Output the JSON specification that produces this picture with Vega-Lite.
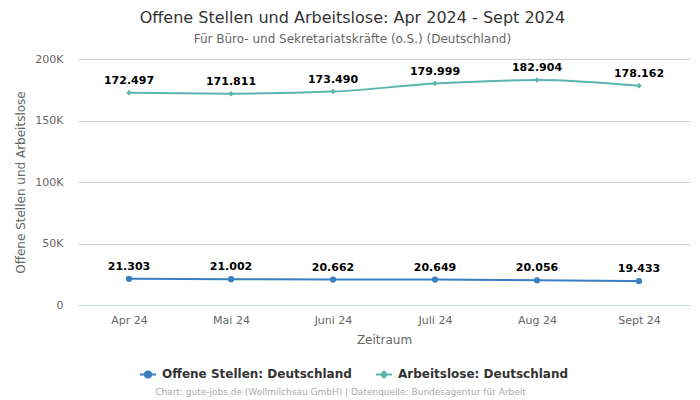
{
  "$schema": "https://vega.github.io/schema/vega-lite/v6.json",
  "width": 612,
  "height": 246,
  "autosize": {"type": "none"},
  "padding": {"left": 78, "top": 59, "right": 10, "bottom": 95},
  "background": "white",
  "view": {"stroke": null},
  "config": {
    "font": "DejaVu Sans",
    "view": {"stroke": null},
    "axis": {"domain": false, "ticks": false},
    "locale": {"number": {"decimal": ",", "thousands": ".", "grouping": [3], "currency": ["", " €"]}}
  },
  "title": {
    "text": "Offene Stellen und Arbeitslose: Apr 2024 - Sept 2024",
    "subtitle": "Für Büro- und Sekretariatskräfte (o.S.) (Deutschland)",
    "anchor": "middle",
    "frame": "bounds",
    "fontSize": 16,
    "fontWeight": "normal",
    "color": "#333333",
    "subtitleFontSize": 12,
    "subtitleColor": "#666666",
    "subtitlePadding": 8,
    "offset": 8
  },
  "data": {
    "values": [
      {"monat": "Apr 24", "serie": "Offene Stellen: Deutschland", "wert": 21303},
      {"monat": "Mai 24", "serie": "Offene Stellen: Deutschland", "wert": 21002},
      {"monat": "Juni 24", "serie": "Offene Stellen: Deutschland", "wert": 20662},
      {"monat": "Juli 24", "serie": "Offene Stellen: Deutschland", "wert": 20649},
      {"monat": "Aug 24", "serie": "Offene Stellen: Deutschland", "wert": 20056},
      {"monat": "Sept 24", "serie": "Offene Stellen: Deutschland", "wert": 19433},
      {"monat": "Apr 24", "serie": "Arbeitslose: Deutschland", "wert": 172497},
      {"monat": "Mai 24", "serie": "Arbeitslose: Deutschland", "wert": 171811},
      {"monat": "Juni 24", "serie": "Arbeitslose: Deutschland", "wert": 173490},
      {"monat": "Juli 24", "serie": "Arbeitslose: Deutschland", "wert": 179999},
      {"monat": "Aug 24", "serie": "Arbeitslose: Deutschland", "wert": 182904},
      {"monat": "Sept 24", "serie": "Arbeitslose: Deutschland", "wert": 178162}
    ]
  },
  "layer": [
    {
      "mark": {"type": "line", "interpolate": "monotone", "strokeWidth": 2},
      "encoding": {
        "x": {
          "field": "monat", "type": "ordinal",
          "sort": ["Apr 24", "Mai 24", "Juni 24", "Juli 24", "Aug 24", "Sept 24"],
          "scale": {"type": "point", "padding": 0.5},
          "axis": {
            "orient": "bottom",
            "title": "Zeitraum", "labelAngle": 0, "labelColor": "#666666", "labelFontSize": 11,
            "labelPadding": 9, "ticks": false, "domain": true, "domainColor": "#ccd6eb", "grid": false,
            "titleColor": "#666666", "titleFontSize": 12, "titleFontWeight": "normal", "titlePadding": 9
          }
        },
        "y": {
          "field": "wert", "type": "quantitative",
          "scale": {"domain": [0, 200000]},
          "axis": {
            "title": "Offene Stellen und Arbeitslose", "titleFontSize": 12, "titleFontWeight": "normal",
            "titleColor": "#666666", "labelColor": "#666666", "labelFontSize": 11,
            "values": [0, 50000, 100000, 150000, 200000],
            "labelExpr": "datum.value == 0 ? '0' : format(datum.value / 1000, 'd') + 'K'",
            "domain": false, "ticks": false, "labelPadding": 15, "gridColor": "#d0d0d0", "titlePadding": 7
          }
        },
        "color": {
          "field": "serie", "type": "nominal",
          "sort": ["Offene Stellen: Deutschland", "Arbeitslose: Deutschland"],
          "scale": {"domain": ["Offene Stellen: Deutschland", "Arbeitslose: Deutschland"], "range": ["#3a7fc0", "#5ab5ad"]},
          "legend": {
            "orient": "none", "legendX": 61, "legendY": 306, "direction": "horizontal", "title": null,
            "labelFontSize": 12, "labelFontWeight": "bold", "labelColor": "#333333", "labelLimit": 0,
            "symbolSize": 256, "symbolStrokeWidth": 2, "columnPadding": 20, "labelOffset": 5,
            "symbolType": "M-1,0L1,0M-0.38,0A0.38,0.38 0 1,0 0.38,0A0.38,0.38 0 1,0 -0.38,0",
            "encode": {
              "symbols": {
                "update": {
                  "shape": {"signal": "datum.value === 'Arbeitslose: Deutschland' ? 'M-1,0L1,0M0,-0.38L0.38,0L0,0.38L-0.38,0Z' : 'M-1,0L1,0M-0.38,0A0.38,0.38 0 1,0 0.38,0A0.38,0.38 0 1,0 -0.38,0'"},
                  "fill": {"signal": "scale('color', datum.value)"},
                  "stroke": {"signal": "scale('color', datum.value)"},
                  "strokeWidth": {"value": 2},
                  "opacity": {"value": 1}
                }
              }
            }
          }
        }
      }
    },
    {
      "transform": [{"filter": "datum.serie === 'Offene Stellen: Deutschland'"}],
      "mark": {"type": "point", "shape": "circle", "filled": true, "opacity": 1, "size": 40},
      "encoding": {
        "x": {"field": "monat", "type": "ordinal", "sort": ["Apr 24", "Mai 24", "Juni 24", "Juli 24", "Aug 24", "Sept 24"], "axis": null},
        "y": {"field": "wert", "type": "quantitative"},
        "color": {"field": "serie", "type": "nominal"}
      }
    },
    {
      "transform": [{"filter": "datum.serie === 'Arbeitslose: Deutschland'"}],
      "mark": {"type": "point", "shape": "diamond", "filled": true, "opacity": 1, "size": 30},
      "encoding": {
        "x": {"field": "monat", "type": "ordinal", "sort": ["Apr 24", "Mai 24", "Juni 24", "Juli 24", "Aug 24", "Sept 24"], "axis": null},
        "y": {"field": "wert", "type": "quantitative"},
        "color": {"field": "serie", "type": "nominal"}
      }
    },
    {
      "mark": {"type": "text", "dy": -12, "fontSize": 11, "fontWeight": "bold", "color": "#000000"},
      "encoding": {
        "x": {"field": "monat", "type": "ordinal", "sort": ["Apr 24", "Mai 24", "Juni 24", "Juli 24", "Aug 24", "Sept 24"], "axis": null},
        "y": {"field": "wert", "type": "quantitative"},
        "text": {"field": "wert", "type": "quantitative", "format": ",d"}
      }
    },
    {
      "mark": {"type": "point", "opacity": 0},
      "encoding": {
        "x": {
          "field": "monat", "type": "ordinal",
          "sort": ["Apr 24", "Mai 24", "Juni 24", "Juli 24", "Aug 24", "Sept 24"],
          "axis": {
            "orient": "bottom",
            "labels": false, "ticks": false, "domain": false, "grid": false,
            "gridColor": "red", "domainColor": "red", "tickColor": "red",
            "title": "Chart: gute-jobs.de (Wollmilchsau GmbH) | Datenquelle: Bundesagentur für Arbeit",
            "titleFontSize": 9, "titleFontWeight": "normal", "titleColor": "#aaaaaa",
            "titlePadding": 82, "titleX": 262, "titleAlign": "center"
          }
        }
      }
    }
  ],
  "resolve": {"axis": {"x": "independent"}}
}
